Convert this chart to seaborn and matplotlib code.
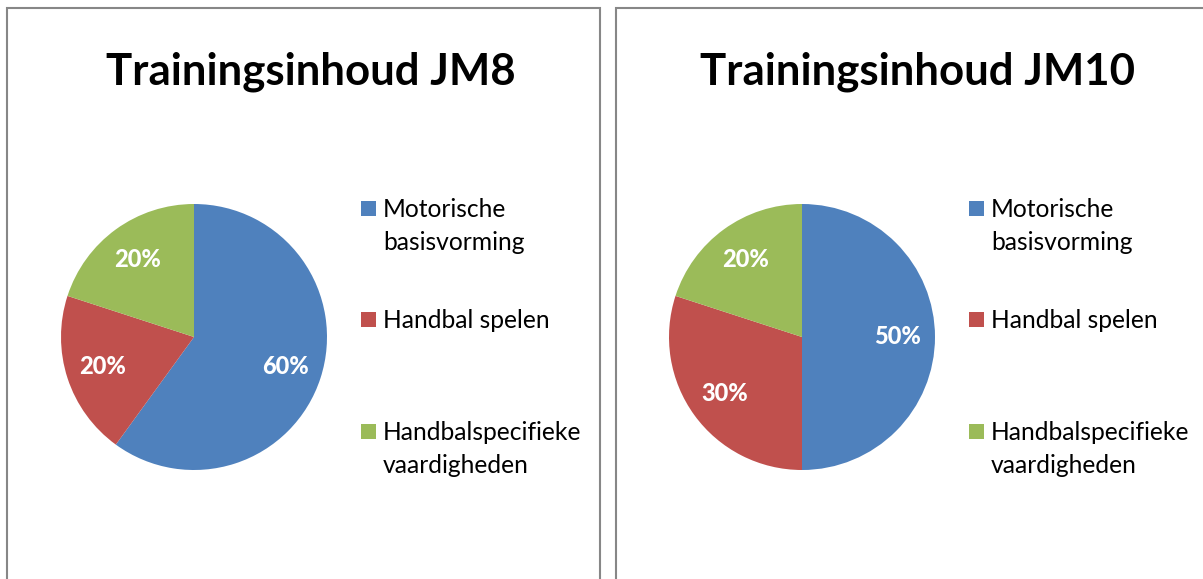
import matplotlib
matplotlib.use("Agg")
import matplotlib.pyplot as plt
from matplotlib.patches import Rectangle
import seaborn as sns

sns.set_theme(style="white")
plt.rcParams['font.family'] = ['Lato', 'DejaVu Sans']

# data
categories = ["Motorische\nbasisvorming", "Handbal spelen", "Handbalspecifieke\nvaardigheden"]
jm8_values = [60, 20, 20]
jm10_values = [50, 30, 20]
titles = ["Trainingsinhoud JM8", "Trainingsinhoud JM10"]
colors = ["#4F81BD", "#C0504D", "#9BBB59"]

W, H = 1203, 579
fig = plt.figure(figsize=(W / 100, H / 100), dpi=100)
fig.patch.set_facecolor("white")


def px_box(x0, y0, w, h):
    # pixel box (top-left origin) -> figure fraction
    return [x0 / W, 1 - (y0 + h) / H, w / W, h / H]


def fx(x):
    return x / W


def fy(y):
    return 1 - y / H


# panel frames
for x0, x1 in [(7, 600), (616, 1215)]:
    fig.patches.append(Rectangle((fx(x0), fy(595)), fx(x1) - fx(x0), fy(8) - fy(595),
                                 transform=fig.transFigure, fill=False,
                                 edgecolor="#878787", linewidth=1.5, clip_on=False))

panels = [(194, 311, jm8_values), (802, 917, jm10_values)]
r = 133
cy = 337
for i, (cx, tx, values) in enumerate(panels):
    ax = fig.add_axes(px_box(cx - r, cy - r, 2 * r, 2 * r))
    wedges, texts, autotexts = ax.pie(values, colors=colors, startangle=90, counterclock=False,
                                      autopct="%d%%", pctdistance=0.72,
                                      wedgeprops=dict(linewidth=0))
    for t in autotexts:
        t.set_color("white")
        t.set_fontsize(17)
        t.set_fontweight("black")
    ax.set_xlim(-1, 1)
    ax.set_ylim(-1, 1)
    ax.set_aspect("equal")
    ax.axis("off")

    fig.text(fx(tx), fy(85), titles[i], ha="center", va="baseline",
             fontsize=31.5, fontweight="bold", color="black")

    # legend, one text per line
    lx = cx + 167
    baselines = [217, 328, 440]
    for col, label, y in zip(colors, categories, baselines):
        fig.patches.append(Rectangle((fx(lx), fy(y - 1)), 15 / W, 15 / H,
                                     transform=fig.transFigure, facecolor=col,
                                     edgecolor="none"))
        for k, line in enumerate(label.split("\n")):
            fig.text(fx(lx + 22), fy(y + 33 * k), line, ha="left", va="baseline",
                     fontsize=17.7, color="black")

fig.savefig("out.png", dpi=100)
